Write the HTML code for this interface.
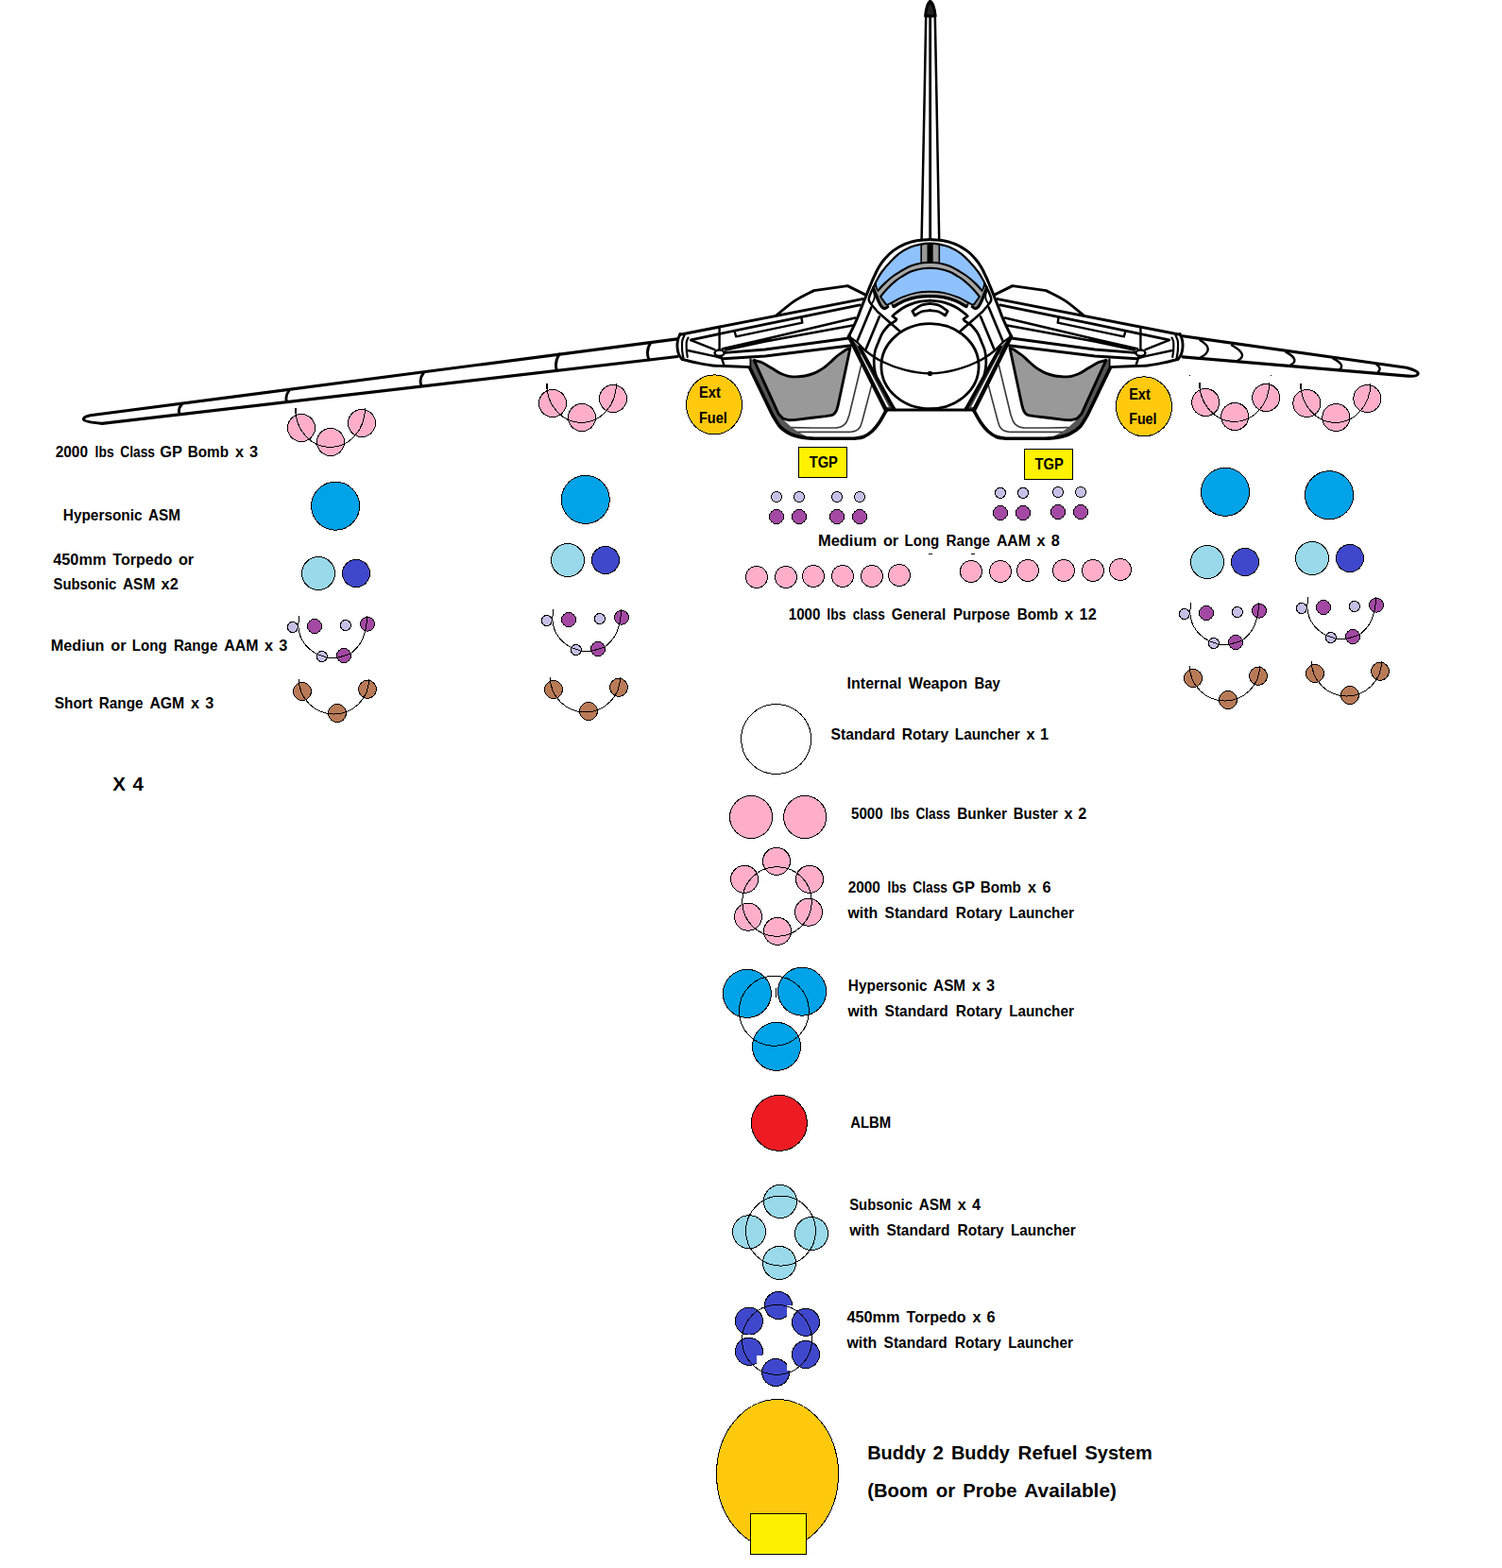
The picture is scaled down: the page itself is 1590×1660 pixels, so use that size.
<!DOCTYPE html>
<html lang="en"><head><meta charset="utf-8"><title>Weapon loadout</title>
<style>
html,body{margin:0;padding:0;background:#fff}
body{width:1590px;height:1660px;overflow:hidden}
svg{display:block}
.w *{stroke:#000;stroke-width:1;shape-rendering:crispEdges}
.w [stroke-width="2"]{stroke-width:2}
.w [stroke="none"]{stroke:none}
.t text{font-family:"Liberation Sans",sans-serif;font-weight:bold;fill:#000}
.a{fill:none;stroke:#000;stroke-width:2.9;stroke-linecap:round;stroke-linejoin:round}
</style></head>
<body>
<svg width="1590" height="1660" viewBox="0 0 1590 1660">
<rect width="1590" height="1660" fill="#fff"/>
<g class="a">
<path d="M717,358.9 L95.5,439.7 Q88,441.5 88.5,444 Q89,446.5 108,448.4 L717,377.5" fill="#fff" stroke-width="3.1"/>
<path d="M192.5,428 Q188,433 190,437.5 M306,413.5 Q301.5,419.5 303.5,424.8 M448.5,394.5 Q443.5,401 445.8,407.4 M592,375 Q586.5,384 589.5,392.4 M689,362.5 Q683,371.5 687,380.8" />
<path d="M1252,355.8 L1489,389.3 Q1501,392.5 1501.2,395.5 Q1500.5,398.8 1490.6,398.1 L1252,377.9" fill="#fff" stroke-width="3.1"/>
<path d="M1270.5,360.2 Q1287,370 1270.5,378.7 M1304,365.5 Q1323,376 1309.2,382.3 M1361.2,372.6 Q1377,381 1365.6,386.7 M1411.4,379.6 Q1425,386.5 1417.5,392 M1457.2,385.8 Q1463,390 1459,393.7" stroke-width="2.4"/>
<path d="M975.6,254 L978.7,100 L980.2,17 Q981,3 985,1.5 Q989,3 989.8,17 L991.4,100 L994.2,254" fill="#fff" stroke-width="2.5"/>
<path d="M984.7,3 V254" stroke-width="2.8"/>
<path d="M979.6,17 Q980.6,5 984.7,1.2 Q988.8,5 990.2,17 Z" fill="#222" stroke-width="3"/>
<path d="M793.5,379.4 L793.5,388.9 L817.7,439.2 C819.1,441.3 822.9,448.6 826.0,452.0 C829.1,455.4 832.6,457.4 836.6,459.3 C840.6,461.2 845.8,462.4 850.0,463.2 C854.2,464.0 859.8,464.1 861.8,464.3 L904.0,464.3 C905.7,464.0 910.9,463.8 914.0,462.5 C917.1,461.2 920.1,459.4 922.9,456.8 C925.7,454.2 928.5,450.7 931.0,447.0 C933.5,443.3 936.8,436.8 938.0,434.8 L905.0,370.0 L899.0,357.0 Z" fill="#fff" stroke="none"/><path d="M793.5,379.4 L793.5,388.9 L817.7,439.2 L826.0,452.0 L836.6,459.3 L850.0,463.2 L858.0,463.8 L848.0,459.0 L839.0,453.2 L831.5,446.5 L824.0,437.9 L798.2,381.3 Z" fill="#555" stroke="none"/><path d="M798.2,381.3 C799.3,381.6 802.8,382.4 805.0,383.2 C807.2,384.0 809.1,385.1 811.4,386.4 C813.7,387.7 816.4,389.4 819.0,391.0 C821.6,392.6 824.5,394.6 827.2,395.8 C829.9,397.0 832.4,397.8 835.0,398.3 C837.6,398.8 840.1,398.9 842.9,398.9 C845.7,398.8 848.9,398.6 852.0,398.0 C855.1,397.4 859.0,396.3 861.8,395.2 C864.5,394.1 866.4,392.9 868.5,391.6 C870.6,390.3 872.4,389.1 874.3,387.6 C876.2,386.1 878.0,384.4 880.0,382.6 C882.0,380.8 884.1,378.6 886.0,377.0 C887.9,375.4 889.7,374.3 891.4,373.1 C893.1,371.9 894.6,370.8 896.0,370.0 C897.4,369.2 899.3,368.8 900.0,368.5 L887.0,429.7 C886.7,430.7 885.9,433.9 885.0,435.5 C884.1,437.1 883.2,438.3 881.4,439.2 C879.6,440.1 875.2,440.4 874.0,440.6 L860.0,442.3 L841.0,444.6 L835.3,444.8 L829.0,443.2 L824.0,437.9 Z" fill="#999" stroke-width="2.88"/><path d="M912.2,384.5 L899.0,439.2 C898.5,440.5 897.3,444.9 896.0,447.0 C894.7,449.1 892.8,450.5 891.0,451.5 C889.2,452.5 886.0,452.8 885.0,453.0 L860.0,453.0 L838.0,452.6" stroke="#3a3a3a" stroke-width="1.62"/><path d="M922.9,407.1 L912.8,445.5 C912.4,446.6 911.6,450.2 910.5,452.0 C909.4,453.8 907.8,455.1 906.0,456.0 C904.2,456.9 901.0,457.2 900.0,457.4 L860.0,457.4 L845.0,457.4" stroke="#3a3a3a" stroke-width="1.62"/><path d="M793.5,379.4 L793.5,388.9 L817.7,439.2 C819.1,441.3 822.9,448.6 826.0,452.0 C829.1,455.4 832.6,457.4 836.6,459.3 C840.6,461.2 845.8,462.4 850.0,463.2 C854.2,464.0 859.8,464.1 861.8,464.3 L904.0,464.3 C905.7,464.0 910.9,463.8 914.0,462.5 C917.1,461.2 920.1,459.4 922.9,456.8 C925.7,454.2 928.5,450.7 931.0,447.0 C933.5,443.3 936.8,436.8 938.0,434.8" stroke-width="3.60"/><path d="M1175.5,379.4 L1175.5,388.9 L1151.3,439.2 C1149.9,441.3 1146.2,448.6 1143.0,452.0 C1139.8,455.4 1136.4,457.4 1132.4,459.3 C1128.4,461.2 1123.2,462.4 1119.0,463.2 C1114.8,464.0 1109.2,464.1 1107.2,464.3 L1065.0,464.3 C1063.3,464.0 1058.2,463.8 1055.0,462.5 C1051.8,461.2 1048.9,459.4 1046.1,456.8 C1043.3,454.2 1040.5,450.7 1038.0,447.0 C1035.5,443.3 1032.2,436.8 1031.0,434.8 L1064.0,370.0 L1070.0,357.0 Z" fill="#fff" stroke="none"/><path d="M1175.5,379.4 L1175.5,388.9 L1151.3,439.2 L1143.0,452.0 L1132.4,459.3 L1119.0,463.2 L1111.0,463.8 L1121.0,459.0 L1130.0,453.2 L1137.5,446.5 L1145.0,437.9 L1170.8,381.3 Z" fill="#555" stroke="none"/><path d="M1170.8,381.3 C1169.7,381.6 1166.2,382.4 1164.0,383.2 C1161.8,384.0 1159.9,385.1 1157.6,386.4 C1155.3,387.7 1152.6,389.4 1150.0,391.0 C1147.4,392.6 1144.5,394.6 1141.8,395.8 C1139.1,397.0 1136.6,397.8 1134.0,398.3 C1131.4,398.8 1128.9,398.9 1126.1,398.9 C1123.3,398.8 1120.2,398.6 1117.0,398.0 C1113.8,397.4 1110.0,396.3 1107.2,395.2 C1104.5,394.1 1102.6,392.9 1100.5,391.6 C1098.4,390.3 1096.6,389.1 1094.7,387.6 C1092.8,386.1 1091.0,384.4 1089.0,382.6 C1087.0,380.8 1084.9,378.6 1083.0,377.0 C1081.1,375.4 1079.3,374.3 1077.6,373.1 C1075.9,371.9 1074.4,370.8 1073.0,370.0 C1071.6,369.2 1069.7,368.8 1069.0,368.5 L1082.0,429.7 C1082.3,430.7 1083.1,433.9 1084.0,435.5 C1084.9,437.1 1085.8,438.3 1087.6,439.2 C1089.4,440.1 1093.8,440.4 1095.0,440.6 L1109.0,442.3 L1128.0,444.6 L1133.7,444.8 L1140.0,443.2 L1145.0,437.9 Z" fill="#999" stroke-width="2.88"/><path d="M1056.8,384.5 L1070.0,439.2 C1070.5,440.5 1071.7,444.9 1073.0,447.0 C1074.3,449.1 1076.2,450.5 1078.0,451.5 C1079.8,452.5 1083.0,452.8 1084.0,453.0 L1109.0,453.0 L1131.0,452.6" stroke="#3a3a3a" stroke-width="1.62"/><path d="M1046.1,407.1 L1056.2,445.5 C1056.6,446.6 1057.4,450.2 1058.5,452.0 C1059.6,453.8 1061.2,455.1 1063.0,456.0 C1064.8,456.9 1068.0,457.2 1069.0,457.4 L1109.0,457.4 L1124.0,457.4" stroke="#3a3a3a" stroke-width="1.62"/><path d="M1175.5,379.4 L1175.5,388.9 L1151.3,439.2 C1149.9,441.3 1146.2,448.6 1143.0,452.0 C1139.8,455.4 1136.4,457.4 1132.4,459.3 C1128.4,461.2 1123.2,462.4 1119.0,463.2 C1114.8,464.0 1109.2,464.1 1107.2,464.3 L1065.0,464.3 C1063.3,464.0 1058.2,463.8 1055.0,462.5 C1051.8,461.2 1048.9,459.4 1046.1,456.8 C1043.3,454.2 1040.5,450.7 1038.0,447.0 C1035.5,443.3 1032.2,436.8 1031.0,434.8" stroke-width="3.60"/>
<path d="M720.0,353.6 L822.0,333.5 L841.4,317.7 L861.6,307.3 L897.4,302.9 L914.5,311.1 L898.8,356.4 L901.2,366.7 L810.0,377.0 L793.5,379.4 L793.5,388.9 L766.6,387.5 L754.0,387.0 L722.0,380.3 L717.0,367.7 Z" fill="#fff" stroke="none"/><path d="M822.0,333.8 C825.2,331.2 834.8,322.8 841.4,318.4 C848.0,314.0 858.2,309.4 861.6,307.6 L897.2,302.6 L915.3,311.6"/><path d="M720.0,354.2 L912.8,316.6" stroke-width="3.00"/><path d="M731.4,359.8 L810.0,343.3 L910.3,322.9"/><path d="M777.5,350.5 L779.2,356.4 L849.3,341.6 L848.4,336.2" stroke-width="2.40"/><path d="M761.6,346.5 L761.6,369.5" stroke-width="2.40"/><path d="M765.0,369.2 L810.0,359.0 L905.2,336.5" stroke-width="2.64"/><path d="M768.0,370.6 L810.0,361.4 L902.7,344.5" stroke-width="2.52"/><path d="M768.0,369.8 L815.0,359.3 L768.0,370.2 Z" fill="#000" stroke-width="1.20"/><path d="M767.9,373.4 L810.0,370.0 L898.5,358.0"/><path d="M765.3,379.7 L810.0,377.0 L901.2,365.8"/><path d="M722.0,380.3 C724.7,380.9 732.7,383.1 738.0,384.2 C743.3,385.3 749.2,386.4 754.0,387.0 C758.8,387.6 760.0,387.2 766.6,387.5 C773.2,387.8 789.0,388.4 793.5,388.6" stroke-width="2.88"/><path d="M728.0,371.0 L756.5,377.2 L765.3,379.7" stroke-width="2.40"/><path d="M731.4,360.2 L756.5,370.2" stroke-width="2.40"/><path d="M763.5,377.8 L766.6,387.0" stroke-width="2.40"/><ellipse cx="761.6" cy="373.7" rx="5" ry="3.2" fill="#fff" stroke-width="2.5"/><path d="M720.0,353.6 C719.6,354.7 718.0,357.6 717.5,360.0 C717.0,362.4 716.8,365.2 717.0,367.7 C717.2,370.2 717.7,372.9 718.5,375.0 C719.3,377.1 721.4,379.4 722.0,380.3" fill="#fff" stroke-width="2.88"/><path d="M724.5,355.0 C724.1,356.0 722.6,358.9 722.2,361.0 C721.8,363.1 722.0,365.5 722.0,367.7 C722.0,369.9 722.2,372.0 722.5,374.0 C722.8,376.0 723.4,378.8 723.6,379.7" stroke-width="2.16"/><path d="M728.5,357.5 C728.2,358.2 727.1,360.3 726.8,362.0 C726.5,363.7 726.7,365.9 726.7,367.7 C726.7,369.5 726.8,371.3 727.0,373.0 C727.2,374.7 727.7,377.2 727.8,378.0" stroke-width="2.16"/><path d="M1249.0,353.6 L1147.0,333.5 L1127.6,317.7 L1107.4,307.3 L1071.6,302.9 L1054.5,311.1 L1070.2,356.4 L1067.8,366.7 L1159.0,377.0 L1175.5,379.4 L1175.5,388.9 L1202.4,387.5 L1215.0,387.0 L1247.0,380.3 L1252.0,367.7 Z" fill="#fff" stroke="none"/><path d="M1147.0,333.8 C1143.8,331.2 1134.2,322.8 1127.6,318.4 C1121.0,314.0 1110.8,309.4 1107.4,307.6 L1071.8,302.6 L1053.7,311.6"/><path d="M1249.0,354.2 L1056.2,316.6" stroke-width="3.00"/><path d="M1237.6,359.8 L1159.0,343.3 L1058.7,322.9"/><path d="M1191.5,350.5 L1189.8,356.4 L1119.7,341.6 L1120.6,336.2" stroke-width="2.40"/><path d="M1207.4,346.5 L1207.4,369.5" stroke-width="2.40"/><path d="M1204.0,369.2 L1159.0,359.0 L1063.8,336.5" stroke-width="2.64"/><path d="M1201.0,370.6 L1159.0,361.4 L1066.3,344.5" stroke-width="2.52"/><path d="M1201.0,369.8 L1154.0,359.3 L1201.0,370.2 Z" fill="#000" stroke-width="1.20"/><path d="M1201.1,373.4 L1159.0,370.0 L1070.5,358.0"/><path d="M1203.7,379.7 L1159.0,377.0 L1067.8,365.8"/><path d="M1247.0,380.3 C1244.3,380.9 1236.3,383.1 1231.0,384.2 C1225.7,385.3 1219.8,386.4 1215.0,387.0 C1210.2,387.6 1209.0,387.2 1202.4,387.5 C1195.8,387.8 1180.0,388.4 1175.5,388.6" stroke-width="2.88"/><path d="M1241.0,371.0 L1212.5,377.2 L1203.7,379.7" stroke-width="2.40"/><path d="M1237.6,360.2 L1212.5,370.2" stroke-width="2.40"/><path d="M1205.5,377.8 L1202.4,387.0" stroke-width="2.40"/><ellipse cx="1207.4" cy="373.7" rx="5" ry="3.2" fill="#fff" stroke-width="2.5"/><path d="M1249.0,353.6 C1249.4,354.7 1251.0,357.6 1251.5,360.0 C1252.0,362.4 1252.2,365.2 1252.0,367.7 C1251.8,370.2 1251.3,372.9 1250.5,375.0 C1249.7,377.1 1247.6,379.4 1247.0,380.3" fill="#fff" stroke-width="2.88"/><path d="M1244.5,355.0 C1244.9,356.0 1246.4,358.9 1246.8,361.0 C1247.2,363.1 1247.0,365.5 1247.0,367.7 C1247.0,369.9 1246.8,372.0 1246.5,374.0 C1246.2,376.0 1245.6,378.8 1245.4,379.7" stroke-width="2.16"/><path d="M1240.5,357.5 C1240.8,358.2 1241.9,360.3 1242.2,362.0 C1242.5,363.7 1242.3,365.9 1242.3,367.7 C1242.3,369.5 1242.2,371.3 1242.0,373.0 C1241.8,374.7 1241.3,377.2 1241.2,378.0" stroke-width="2.16"/>
<path d="M898.7,355.6 C899.5,353.9 902.1,348.7 903.7,345.3 C905.3,341.9 906.8,338.8 908.2,335.3 C909.6,331.8 910.8,328.2 912.3,324.5 C913.8,320.8 915.5,316.5 916.9,313.0 C918.3,309.5 919.3,306.9 920.7,303.6 C922.1,300.3 923.6,296.4 925.2,293.0 C926.8,289.6 928.3,286.2 930.2,283.0 C932.1,279.8 934.0,276.9 936.6,274.0 C939.2,271.1 942.1,268.0 945.6,265.4 C949.1,262.8 953.8,260.2 957.9,258.4 C962.0,256.6 966.1,255.6 970.5,254.8 C974.9,254.0 979.8,253.5 984.5,253.5 C989.2,253.5 994.1,254.0 998.5,254.8 C1002.9,255.6 1007.0,256.6 1011.1,258.4 C1015.2,260.2 1019.8,262.8 1023.4,265.4 C1027.0,268.0 1029.8,271.1 1032.4,274.0 C1035.0,276.9 1036.9,279.8 1038.8,283.0 C1040.7,286.2 1042.2,289.6 1043.8,293.0 C1045.4,296.4 1046.9,300.3 1048.3,303.6 C1049.7,306.9 1050.7,309.5 1052.1,313.0 C1053.5,316.5 1055.2,320.8 1056.7,324.5 C1058.2,328.2 1059.4,331.8 1060.8,335.3 C1062.2,338.8 1063.7,341.9 1065.3,345.3 C1066.9,348.7 1069.5,353.9 1070.3,355.6 L1031.0,434.5 L938,434.5 Z" fill="#fff" stroke="none"/>
<path d="M928.9,308.3 C928.5,307.0 926.8,302.4 926.7,300.3 C926.7,298.2 927.5,298.1 928.6,296.0 C929.7,293.9 931.2,291.0 933.4,288.0 C935.6,285.0 938.8,281.2 941.8,278.0 C944.8,274.8 947.9,271.3 951.6,268.6 C955.3,265.9 960.3,263.2 964.0,261.6 C967.7,260.0 970.2,259.6 973.6,258.9 C977.0,258.2 980.9,257.6 984.5,257.6 C988.1,257.6 992.0,258.2 995.4,258.9 C998.8,259.6 1001.3,260.0 1005.0,261.6 C1008.7,263.2 1013.7,265.9 1017.4,268.6 C1021.1,271.3 1024.2,274.8 1027.2,278.0 C1030.2,281.2 1033.4,285.0 1035.6,288.0 C1037.8,291.0 1039.3,293.9 1040.4,296.0 C1041.5,298.1 1042.3,298.2 1042.3,300.3 C1042.2,302.4 1040.5,307.0 1040.1,308.3 L1040.1,308.3 C1038.8,306.9 1035.4,302.8 1032.6,300.1 C1029.8,297.4 1026.2,294.3 1023.1,292.0 C1020.0,289.7 1017.0,288.1 1014.0,286.3 C1011.0,284.5 1008.4,282.7 1004.8,281.4 C1001.2,280.1 995.6,278.9 992.2,278.3 C988.8,277.7 987.1,277.9 984.5,277.9 C981.9,277.9 980.2,277.7 976.8,278.3 C973.4,278.9 967.8,280.1 964.2,281.4 C960.6,282.7 958.0,284.5 955.0,286.3 C952.0,288.1 949.0,289.7 945.9,292.0 C942.8,294.3 939.2,297.4 936.4,300.1 C933.6,302.8 930.1,306.9 928.9,308.3 Z" fill="#8fc2fc" stroke="none"/>
<path d="M975,257.5 H994.5 V277.5 H975 Z" fill="#999" stroke="none"/>
<path d="M975.2,258.5 V277.5 M994.3,258.5 V277.5" stroke-width="1.6"/>
<path d="M984.6,258 V278" stroke-width="6.2" stroke-linecap="butt"/>
<path d="M928.9,308.3 C928.5,307.0 926.8,302.4 926.7,300.3 C926.7,298.2 927.5,298.1 928.6,296.0 C929.7,293.9 931.2,291.0 933.4,288.0 C935.6,285.0 938.8,281.2 941.8,278.0 C944.8,274.8 947.9,271.3 951.6,268.6 C955.3,265.9 960.3,263.2 964.0,261.6 C967.7,260.0 970.2,259.6 973.6,258.9 C977.0,258.2 980.9,257.6 984.5,257.6 C988.1,257.6 992.0,258.2 995.4,258.9 C998.8,259.6 1001.3,260.0 1005.0,261.6 C1008.7,263.2 1013.7,265.9 1017.4,268.6 C1021.1,271.3 1024.2,274.8 1027.2,278.0 C1030.2,281.2 1033.4,285.0 1035.6,288.0 C1037.8,291.0 1039.3,293.9 1040.4,296.0 C1041.5,298.1 1042.3,298.2 1042.3,300.3 C1042.2,302.4 1040.5,307.0 1040.1,308.3" stroke-width="2.16"/>
<path d="M928.9,308.3 C930.1,306.9 933.6,302.8 936.4,300.1 C939.2,297.4 942.8,294.3 945.9,292.0 C949.0,289.7 952.0,288.1 955.0,286.3 C958.0,284.5 960.6,282.7 964.2,281.4 C967.8,280.1 973.4,278.9 976.8,278.3 C980.2,277.7 981.9,277.9 984.5,277.9 C987.1,277.9 988.8,277.7 992.2,278.3 C995.6,278.9 1001.2,280.1 1004.8,281.4 C1008.4,282.7 1011.0,284.5 1014.0,286.3 C1017.0,288.1 1020.0,289.7 1023.1,292.0 C1026.2,294.3 1029.8,297.4 1032.6,300.1 C1035.4,302.8 1038.8,306.9 1040.1,308.3 L1037.0,314.0 C1035.7,312.5 1032.2,308.1 1029.4,305.2 C1026.6,302.3 1022.6,298.8 1020.0,296.7 C1017.4,294.6 1016.5,294.1 1014.0,292.6 C1011.5,291.1 1008.4,288.9 1004.8,287.5 C1001.2,286.1 995.6,284.9 992.2,284.3 C988.8,283.7 987.1,283.9 984.5,283.9 C981.9,283.9 980.2,283.7 976.8,284.3 C973.4,284.9 967.8,286.1 964.2,287.5 C960.6,288.9 957.5,291.1 955.0,292.6 C952.5,294.1 951.6,294.6 949.0,296.7 C946.4,298.8 942.4,302.3 939.6,305.2 C936.8,308.1 933.3,312.5 932.0,314.0 Z" fill="#a8a8a8" stroke="none"/>
<path d="M932.0,314.0 C933.3,312.5 936.8,308.1 939.6,305.2 C942.4,302.3 946.4,298.8 949.0,296.7 C951.6,294.6 952.5,294.1 955.0,292.6 C957.5,291.1 960.6,288.9 964.2,287.5 C967.8,286.1 973.4,284.9 976.8,284.3 C980.2,283.7 981.9,283.9 984.5,283.9 C987.1,283.9 988.8,283.7 992.2,284.3 C995.6,284.9 1001.2,286.1 1004.8,287.5 C1008.4,288.9 1011.5,291.1 1014.0,292.6 C1016.5,294.1 1017.4,294.6 1020.0,296.7 C1022.6,298.8 1026.6,302.3 1029.4,305.2 C1032.2,308.1 1035.7,312.5 1037.0,314.0 L1031.5,323.8 C1031.2,323.6 1030.8,323.3 1029.5,322.6 C1028.2,321.9 1026.3,320.9 1023.7,319.6 C1021.1,318.3 1018.2,316.2 1014.0,314.6 C1009.8,313.0 1003.4,310.9 998.5,309.9 C993.6,308.9 989.2,308.7 984.5,308.7 C979.8,308.7 975.4,308.9 970.5,309.9 C965.6,310.9 959.2,313.0 955.0,314.6 C950.8,316.2 947.9,318.3 945.3,319.6 C942.7,320.9 940.8,321.9 939.5,322.6 C938.2,323.3 937.8,323.6 937.5,323.8 Z" fill="#8fc2fc" stroke="none"/>
<path d="M939.5,322.6 C940.5,322.1 942.7,320.9 945.3,319.6 C947.9,318.3 950.8,316.2 955.0,314.6 C959.2,313.0 965.6,310.9 970.5,309.9 C975.4,308.9 979.8,308.7 984.5,308.7 C989.2,308.7 993.6,308.9 998.5,309.9 C1003.4,310.9 1009.8,313.0 1014.0,314.6 C1018.2,316.2 1021.1,318.3 1023.7,319.6 C1026.3,320.9 1028.5,322.1 1029.5,322.6 L1023.0,324.5 C1021.0,323.4 1015.2,319.8 1011.1,318.2 C1007.0,316.6 1002.9,315.4 998.5,314.6 C994.1,313.8 989.2,313.6 984.5,313.6 C979.8,313.6 974.9,313.8 970.5,314.6 C966.1,315.4 962.0,316.6 957.9,318.2 C953.8,319.8 948.0,323.4 946.0,324.5 Z" fill="#a8a8a8" stroke="none"/>
<path d="M928.9,308.3 C930.1,306.9 933.6,302.8 936.4,300.1 C939.2,297.4 942.8,294.3 945.9,292.0 C949.0,289.7 952.0,288.1 955.0,286.3 C958.0,284.5 960.6,282.7 964.2,281.4 C967.8,280.1 973.4,278.9 976.8,278.3 C980.2,277.7 981.9,277.9 984.5,277.9 C987.1,277.9 988.8,277.7 992.2,278.3 C995.6,278.9 1001.2,280.1 1004.8,281.4 C1008.4,282.7 1011.0,284.5 1014.0,286.3 C1017.0,288.1 1020.0,289.7 1023.1,292.0 C1026.2,294.3 1029.8,297.4 1032.6,300.1 C1035.4,302.8 1038.8,306.9 1040.1,308.3" stroke-width="2.16"/>
<path d="M932.0,314.0 C933.3,312.5 936.8,308.1 939.6,305.2 C942.4,302.3 946.4,298.8 949.0,296.7 C951.6,294.6 952.5,294.1 955.0,292.6 C957.5,291.1 960.6,288.9 964.2,287.5 C967.8,286.1 973.4,284.9 976.8,284.3 C980.2,283.7 981.9,283.9 984.5,283.9 C987.1,283.9 988.8,283.7 992.2,284.3 C995.6,284.9 1001.2,286.1 1004.8,287.5 C1008.4,288.9 1011.5,291.1 1014.0,292.6 C1016.5,294.1 1017.4,294.6 1020.0,296.7 C1022.6,298.8 1026.6,302.3 1029.4,305.2 C1032.2,308.1 1035.7,312.5 1037.0,314.0" stroke-width="2.16"/>
<path d="M939.5,322.6 C940.5,322.1 942.7,320.9 945.3,319.6 C947.9,318.3 950.8,316.2 955.0,314.6 C959.2,313.0 965.6,310.9 970.5,309.9 C975.4,308.9 979.8,308.7 984.5,308.7 C989.2,308.7 993.6,308.9 998.5,309.9 C1003.4,310.9 1009.8,313.0 1014.0,314.6 C1018.2,316.2 1021.1,318.3 1023.7,319.6 C1026.3,320.9 1028.5,322.1 1029.5,322.6" stroke-width="1.92"/>
<path d="M946.0,324.5 C948.0,323.4 953.8,319.8 957.9,318.2 C962.0,316.6 966.1,315.4 970.5,314.6 C974.9,313.8 979.8,313.6 984.5,313.6 C989.2,313.6 994.1,313.8 998.5,314.6 C1002.9,315.4 1007.0,316.6 1011.1,318.2 C1015.2,319.8 1021.0,323.4 1023.0,324.5" stroke-width="3.36"/>
<path d="M926.5,304.0 L928.9,308.3 L932.0,314.0 L938.0,322.1 L937.3,325.6 L934.0,324.6 L930.5,318.5 L927.5,311.0 Z" fill="#8a9090" stroke="none"/><path d="M932.0,314.0 L938.3,322.6" stroke-width="1.92"/><path d="M924.5,304.5 C924.9,305.6 926.0,308.9 927.0,311.4 C928.0,313.9 929.2,317.1 930.2,319.3 C931.2,321.5 932.3,323.5 933.3,324.7 C934.3,325.9 935.3,326.6 936.4,326.6 C937.5,326.6 939.2,324.9 939.8,324.6" stroke-width="3.12"/><path d="M944.3,321.3 L946.2,324.8 L949.0,323.2" stroke-width="1.68"/><path d="M1042.5,304.0 L1040.1,308.3 L1037.0,314.0 L1031.0,322.1 L1031.7,325.6 L1035.0,324.6 L1038.5,318.5 L1041.5,311.0 Z" fill="#8a9090" stroke="none"/><path d="M1037.0,314.0 L1030.7,322.6" stroke-width="1.92"/><path d="M1044.5,304.5 C1044.1,305.6 1043.0,308.9 1042.0,311.4 C1041.0,313.9 1039.8,317.1 1038.8,319.3 C1037.8,321.5 1036.7,323.5 1035.7,324.7 C1034.7,325.9 1033.7,326.6 1032.6,326.6 C1031.5,326.6 1029.8,324.9 1029.2,324.6" stroke-width="3.12"/><path d="M1024.7,321.3 L1022.8,324.8 L1020.0,323.2" stroke-width="1.68"/>
<path d="M898.7,355.6 C899.5,353.9 902.1,348.7 903.7,345.3 C905.3,341.9 906.8,338.8 908.2,335.3 C909.6,331.8 910.8,328.2 912.3,324.5 C913.8,320.8 915.5,316.5 916.9,313.0 C918.3,309.5 919.3,306.9 920.7,303.6 C922.1,300.3 923.6,296.4 925.2,293.0 C926.8,289.6 928.3,286.2 930.2,283.0 C932.1,279.8 934.0,276.9 936.6,274.0 C939.2,271.1 942.1,268.0 945.6,265.4 C949.1,262.8 953.8,260.2 957.9,258.4 C962.0,256.6 966.1,255.6 970.5,254.8 C974.9,254.0 982.2,253.7 984.5,253.5" stroke-width="3.00"/><path d="M922.3,325.4 L907.7,360.6" stroke-width="2.64"/><path d="M930.9,335.3 L916.6,369.8" stroke-width="2.64"/><path d="M926.7,300.1 C926.3,300.8 925.2,303.1 924.5,304.5 C923.8,305.9 923.3,306.6 922.6,308.3 C921.9,310.0 920.6,313.0 920.1,314.6 C919.6,316.2 919.6,316.6 919.8,317.7 C920.0,318.8 920.7,319.8 921.4,320.9 C922.1,321.9 922.6,322.5 923.9,324.0 C925.1,325.5 928.1,329.0 928.9,330.0 L953.2,351.2" stroke-width="2.52"/><path d="M923.9,306.7 C924.1,307.3 925.1,309.2 925.4,310.5 C925.7,311.8 925.9,313.3 925.8,314.6 C925.7,315.9 925.1,317.3 924.6,318.5 C924.1,319.7 922.9,321.2 922.6,321.8" stroke-width="1.92"/><path d="M941.4,343.6 C940.2,345.0 936.4,349.0 934.5,352.0 C932.6,355.0 931.5,358.2 930.2,361.4 C928.9,364.6 927.3,367.9 926.5,371.0 C925.7,374.1 925.4,377.1 925.2,380.3 C925.1,383.5 925.2,386.9 925.6,390.0 C926.0,393.1 926.8,396.0 927.7,399.2 C928.6,402.4 929.7,405.9 931.0,409.0 C932.3,412.1 933.8,415.3 935.3,418.0 C936.8,420.7 938.1,422.6 940.0,425.0 C941.9,427.4 945.5,431.2 946.6,432.5" stroke-width="2.76"/><path d="M942.2,343.5 L947.9,339.7 L949.1,337.8 L944.7,334.7 L946.6,332.8 C948.0,331.8 952.3,328.2 955.0,326.5 C957.7,324.8 959.7,323.8 962.7,322.6 C965.7,321.4 969.4,320.1 973.0,319.3 C976.6,318.6 982.6,318.3 984.5,318.1" stroke-width="2.76"/><path d="M965.8,329.4 C967.3,328.4 971.9,324.6 975.0,323.3 C978.1,322.0 982.9,321.8 984.5,321.5 M965.8,329.4 L968.4,334.0 C969.7,333.3 973.3,330.7 976.0,329.8 C978.7,328.9 983.1,328.9 984.5,328.7" stroke-width="2.76"/><path d="M898.8,356.4 L938.0,434.5 L946.6,433.8 L910.0,367.5 Z" fill="#444" stroke="none"/><path d="M905.0,371.0 L912.0,376.0 L941.0,431.0 L938.6,431.0 Z" fill="#fff" stroke="none"/><path d="M898.8,356.4 L938.0,434.5" stroke-width="4.32"/><path d="M910.0,367.5 L946.6,433.4" stroke-width="3.60"/><path d="M1070.3,355.6 C1069.5,353.9 1066.9,348.7 1065.3,345.3 C1063.7,341.9 1062.2,338.8 1060.8,335.3 C1059.4,331.8 1058.2,328.2 1056.7,324.5 C1055.2,320.8 1053.5,316.5 1052.1,313.0 C1050.7,309.5 1049.7,306.9 1048.3,303.6 C1046.9,300.3 1045.4,296.4 1043.8,293.0 C1042.2,289.6 1040.7,286.2 1038.8,283.0 C1036.9,279.8 1035.0,276.9 1032.4,274.0 C1029.8,271.1 1027.0,268.0 1023.4,265.4 C1019.8,262.8 1015.2,260.2 1011.1,258.4 C1007.0,256.6 1002.9,255.6 998.5,254.8 C994.1,254.0 986.8,253.7 984.5,253.5" stroke-width="3.00"/><path d="M1046.7,325.4 L1061.3,360.6" stroke-width="2.64"/><path d="M1038.1,335.3 L1052.4,369.8" stroke-width="2.64"/><path d="M1042.3,300.1 C1042.7,300.8 1043.8,303.1 1044.5,304.5 C1045.2,305.9 1045.7,306.6 1046.4,308.3 C1047.1,310.0 1048.4,313.0 1048.9,314.6 C1049.4,316.2 1049.4,316.6 1049.2,317.7 C1049.0,318.8 1048.3,319.8 1047.6,320.9 C1046.9,321.9 1046.3,322.5 1045.1,324.0 C1043.8,325.5 1040.9,329.0 1040.1,330.0 L1015.8,351.2" stroke-width="2.52"/><path d="M1045.1,306.7 C1044.8,307.3 1043.9,309.2 1043.6,310.5 C1043.3,311.8 1043.1,313.3 1043.2,314.6 C1043.3,315.9 1043.9,317.3 1044.4,318.5 C1044.9,319.7 1046.1,321.2 1046.4,321.8" stroke-width="1.92"/><path d="M1027.6,343.6 C1028.8,345.0 1032.6,349.0 1034.5,352.0 C1036.4,355.0 1037.5,358.2 1038.8,361.4 C1040.1,364.6 1041.7,367.9 1042.5,371.0 C1043.3,374.1 1043.6,377.1 1043.8,380.3 C1044.0,383.5 1043.8,386.9 1043.4,390.0 C1043.0,393.1 1042.2,396.0 1041.3,399.2 C1040.4,402.4 1039.3,405.9 1038.0,409.0 C1036.7,412.1 1035.2,415.3 1033.7,418.0 C1032.2,420.7 1030.9,422.6 1029.0,425.0 C1027.1,427.4 1023.5,431.2 1022.4,432.5" stroke-width="2.76"/><path d="M1026.8,343.5 L1021.1,339.7 L1019.9,337.8 L1024.3,334.7 L1022.4,332.8 C1021.0,331.8 1016.7,328.2 1014.0,326.5 C1011.3,324.8 1009.3,323.8 1006.3,322.6 C1003.3,321.4 999.6,320.1 996.0,319.3 C992.4,318.6 986.4,318.3 984.5,318.1" stroke-width="2.76"/><path d="M1003.2,329.4 C1001.7,328.4 997.1,324.6 994.0,323.3 C990.9,322.0 986.1,321.8 984.5,321.5 M1003.2,329.4 L1000.6,334.0 C999.3,333.3 995.7,330.7 993.0,329.8 C990.3,328.9 985.9,328.9 984.5,328.7" stroke-width="2.76"/><path d="M1070.2,356.4 L1031.0,434.5 L1022.4,433.8 L1059.0,367.5 Z" fill="#444" stroke="none"/><path d="M1064.0,371.0 L1057.0,376.0 L1028.0,431.0 L1030.4,431.0 Z" fill="#fff" stroke="none"/><path d="M1070.2,356.4 L1031.0,434.5" stroke-width="4.32"/><path d="M1059.0,367.5 L1022.4,433.4" stroke-width="3.60"/>
<path d="M898.8,356.4 C900.3,357.4 904.7,360.2 907.6,362.7 C910.5,365.2 912.2,368.2 916.4,371.5 C920.6,374.8 925.8,378.8 932.7,382.2 C939.6,385.6 949.3,389.4 957.9,391.6 C966.5,393.8 975.6,395.3 984.5,395.3 C993.4,395.3 1002.5,393.8 1011.1,391.6 C1019.7,389.4 1029.4,385.6 1036.3,382.2 C1043.2,378.8 1048.4,374.8 1052.6,371.5 C1056.8,368.2 1058.5,365.2 1061.4,362.7 C1064.3,360.2 1068.7,357.4 1070.2,356.4" stroke-width="2.28"/>
<circle cx="984.5" cy="395.4" r="2.6" fill="#000" stroke="none"/>
<ellipse cx="984.5" cy="387.7" rx="51.6" ry="45" fill="none" stroke-width="2.8"/>
<path d="M938,434 H1031" stroke-width="2.8"/>
</g>
<g class="w">
<circle cx="319.00" cy="453.00" r="14.50" fill="#ffaec9"/><circle cx="350.00" cy="468.00" r="14.50" fill="#ffaec9"/><circle cx="383.00" cy="448.00" r="14.50" fill="#ffaec9"/><path d="M312.5,432 V438" stroke-width="2" fill="none"/><path d="M312.5,432 A37,41.5 0 0 0 386.5,432" fill="none"/>
<circle cx="585.00" cy="427.00" r="14.50" fill="#ffaec9"/><circle cx="616.00" cy="442.00" r="14.50" fill="#ffaec9"/><circle cx="649.00" cy="422.00" r="14.50" fill="#ffaec9"/><path d="M578.5,406 V412" stroke-width="2" fill="none"/><path d="M578.5,406 A37,41.5 0 0 0 652.5,406" fill="none"/>
<circle cx="1276.20" cy="426.00" r="14.50" fill="#ffaec9"/><circle cx="1307.20" cy="441.00" r="14.50" fill="#ffaec9"/><circle cx="1340.20" cy="421.00" r="14.50" fill="#ffaec9"/><path d="M1269.7,405 V411" stroke-width="2" fill="none"/><path d="M1269.7,405 A37,41.5 0 0 0 1343.7,405" fill="none"/>
<circle cx="1383.30" cy="427.00" r="14.50" fill="#ffaec9"/><circle cx="1414.30" cy="442.00" r="14.50" fill="#ffaec9"/><circle cx="1447.30" cy="422.00" r="14.50" fill="#ffaec9"/><path d="M1376.8,406 V412" stroke-width="2" fill="none"/><path d="M1376.8,406 A37,41.5 0 0 0 1450.8,406" fill="none"/>
<circle cx="355.10" cy="535.70" r="25.50" fill="#00a2e8"/>
<circle cx="619.80" cy="528.90" r="25.50" fill="#00a2e8"/>
<circle cx="1297.00" cy="520.80" r="25.50" fill="#00a2e8"/>
<circle cx="1407.10" cy="524.20" r="25.50" fill="#00a2e8"/>
<circle cx="337.00" cy="607.00" r="17.50" fill="#99d9ea"/><circle cx="377.00" cy="607.00" r="14.50" fill="#3f48cc"/>
<circle cx="601.00" cy="593.00" r="17.50" fill="#99d9ea"/><circle cx="641.00" cy="593.00" r="14.50" fill="#3f48cc"/>
<circle cx="1278.00" cy="595.00" r="17.50" fill="#99d9ea"/><circle cx="1318.00" cy="595.00" r="14.50" fill="#3f48cc"/>
<circle cx="1389.00" cy="591.00" r="17.50" fill="#99d9ea"/><circle cx="1429.00" cy="591.00" r="14.50" fill="#3f48cc"/>
<circle cx="309.80" cy="664.00" r="5.50" fill="#c8bfe7"/><circle cx="333.00" cy="663.00" r="7.50" fill="#a349a4"/><circle cx="365.90" cy="662.00" r="5.50" fill="#c8bfe7"/><circle cx="389.00" cy="660.70" r="7.50" fill="#a349a4"/><circle cx="340.80" cy="695.00" r="5.50" fill="#c8bfe7"/><circle cx="364.00" cy="694.00" r="7.50" fill="#a349a4"/><path d="M316.3,652 L315.8,664 C317,678 326,688 337,693 L346.5,696.4 H357 L370.5,692.2 C380,686 388,674 388.5,652.3" fill="none"/>
<circle cx="578.80" cy="657.00" r="5.50" fill="#c8bfe7"/><circle cx="602.00" cy="656.00" r="7.50" fill="#a349a4"/><circle cx="634.90" cy="655.00" r="5.50" fill="#c8bfe7"/><circle cx="658.00" cy="653.70" r="7.50" fill="#a349a4"/><circle cx="609.80" cy="688.00" r="5.50" fill="#c8bfe7"/><circle cx="633.00" cy="687.00" r="7.50" fill="#a349a4"/><path d="M585.3,645 L584.8,657 C586,671 595,681 606,686 L615.5,689.4 H626 L639.5,685.2 C649,679 657,667 657.5,645.3" fill="none"/>
<circle cx="1253.80" cy="650.00" r="5.50" fill="#c8bfe7"/><circle cx="1277.00" cy="649.00" r="7.50" fill="#a349a4"/><circle cx="1309.90" cy="648.00" r="5.50" fill="#c8bfe7"/><circle cx="1333.00" cy="646.70" r="7.50" fill="#a349a4"/><circle cx="1284.80" cy="681.00" r="5.50" fill="#c8bfe7"/><circle cx="1308.00" cy="680.00" r="7.50" fill="#a349a4"/><path d="M1260.3,638 L1259.8,650 C1261,664 1270,674 1281,679 L1290.5,682.4 H1301 L1314.5,678.2 C1324,672 1332,660 1332.5,638.3" fill="none"/>
<circle cx="1377.80" cy="644.00" r="5.50" fill="#c8bfe7"/><circle cx="1401.00" cy="643.00" r="7.50" fill="#a349a4"/><circle cx="1433.90" cy="642.00" r="5.50" fill="#c8bfe7"/><circle cx="1457.00" cy="640.70" r="7.50" fill="#a349a4"/><circle cx="1408.80" cy="675.00" r="5.50" fill="#c8bfe7"/><circle cx="1432.00" cy="674.00" r="7.50" fill="#a349a4"/><path d="M1384.3,632 L1383.8,644 C1385,658 1394,668 1405,673 L1414.5,676.4 H1425 L1438.5,672.2 C1448,666 1456,654 1456.5,632.3" fill="none"/>
<circle cx="320.00" cy="732.00" r="9.50" fill="#b97a57"/><circle cx="357.00" cy="755.00" r="9.50" fill="#b97a57"/><circle cx="389.00" cy="729.80" r="9.50" fill="#b97a57"/><path d="M316.4,719 A37.1,37 0 0 0 390.6,719" fill="none"/>
<circle cx="586.00" cy="730.00" r="9.50" fill="#b97a57"/><circle cx="623.00" cy="753.00" r="9.50" fill="#b97a57"/><circle cx="655.00" cy="727.80" r="9.50" fill="#b97a57"/><path d="M582.4,717 A37.1,37 0 0 0 656.6,717" fill="none"/>
<circle cx="1263.00" cy="718.00" r="9.50" fill="#b97a57"/><circle cx="1300.00" cy="741.00" r="9.50" fill="#b97a57"/><circle cx="1332.00" cy="715.80" r="9.50" fill="#b97a57"/><path d="M1259.4,705 A37.1,37 0 0 0 1333.6,705" fill="none"/>
<circle cx="1392.00" cy="713.00" r="9.50" fill="#b97a57"/><circle cx="1429.00" cy="736.00" r="9.50" fill="#b97a57"/><circle cx="1461.00" cy="710.80" r="9.50" fill="#b97a57"/><path d="M1388.4,700 A37.1,37 0 0 0 1462.6,700" fill="none"/>
<ellipse cx="756.00" cy="428.40" rx="29.50" ry="31.50" fill="#ffc90e"/>
<ellipse cx="1211.00" cy="430.30" rx="29.50" ry="31.50" fill="#ffc90e"/>
<rect x="845.5" y="473.5" width="51" height="32" fill="#fff200"/>
<rect x="1084.5" y="475.5" width="51" height="32" fill="#fff200"/>
<circle cx="822.00" cy="526.00" r="5.50" fill="#c8bfe7"/>
<circle cx="822.00" cy="547.00" r="7.50" fill="#a349a4"/>
<circle cx="846.00" cy="526.00" r="5.50" fill="#c8bfe7"/>
<circle cx="846.00" cy="547.00" r="7.50" fill="#a349a4"/>
<circle cx="886.00" cy="526.00" r="5.50" fill="#c8bfe7"/>
<circle cx="886.00" cy="547.00" r="7.50" fill="#a349a4"/>
<circle cx="910.00" cy="526.00" r="5.50" fill="#c8bfe7"/>
<circle cx="910.00" cy="547.00" r="7.50" fill="#a349a4"/>
<circle cx="1059.00" cy="521.80" r="5.50" fill="#c8bfe7"/>
<circle cx="1059.00" cy="543.00" r="7.50" fill="#a349a4"/>
<circle cx="1083.00" cy="521.80" r="5.50" fill="#c8bfe7"/>
<circle cx="1083.00" cy="543.00" r="7.50" fill="#a349a4"/>
<circle cx="1120.00" cy="521.00" r="5.50" fill="#c8bfe7"/>
<circle cx="1120.00" cy="542.00" r="7.50" fill="#a349a4"/>
<circle cx="1144.00" cy="521.00" r="5.50" fill="#c8bfe7"/>
<circle cx="1144.00" cy="542.00" r="7.50" fill="#a349a4"/>
<circle cx="801.00" cy="611.00" r="11.50" fill="#ffaec9"/>
<circle cx="832.00" cy="611.00" r="11.50" fill="#ffaec9"/>
<circle cx="861.00" cy="610.00" r="11.50" fill="#ffaec9"/>
<circle cx="892.00" cy="610.00" r="11.50" fill="#ffaec9"/>
<circle cx="923.00" cy="610.00" r="11.50" fill="#ffaec9"/>
<circle cx="952.00" cy="609.00" r="11.50" fill="#ffaec9"/>
<circle cx="1028.00" cy="605.00" r="11.50" fill="#ffaec9"/>
<circle cx="1059.00" cy="605.00" r="11.50" fill="#ffaec9"/>
<circle cx="1088.00" cy="604.00" r="11.50" fill="#ffaec9"/>
<circle cx="1126.00" cy="604.00" r="11.50" fill="#ffaec9"/>
<circle cx="1157.00" cy="604.00" r="11.50" fill="#ffaec9"/>
<circle cx="1186.00" cy="603.00" r="11.50" fill="#ffaec9"/>
<path d="M983,586.5h3.5M1028,586.5h3.5" fill="none"/>
<rect x="1259" y="397" width="1" height="1" fill="#000" stroke="none"/><rect x="1345" y="397" width="1" height="1" fill="#000" stroke="none"/>
<circle cx="821.60" cy="782.50" r="37.00" fill="#fff"/>
<circle cx="795.10" cy="865.00" r="22.50" fill="#ffaec9"/>
<circle cx="852.20" cy="865.00" r="22.50" fill="#ffaec9"/>
<circle cx="822.00" cy="911.80" r="14.50" fill="#ffaec9"/>
<circle cx="788.10" cy="930.80" r="14.50" fill="#ffaec9"/>
<circle cx="857.00" cy="930.80" r="14.50" fill="#ffaec9"/>
<circle cx="792.00" cy="970.70" r="14.50" fill="#ffaec9"/>
<circle cx="856.00" cy="965.70" r="14.50" fill="#ffaec9"/>
<circle cx="823.00" cy="985.90" r="14.50" fill="#ffaec9"/>
<circle cx="822.50" cy="954.50" r="36.80" fill="none"/>
<circle cx="790.90" cy="1051.90" r="25.50" fill="#00a2e8"/>
<circle cx="849.10" cy="1049.70" r="25.50" fill="#00a2e8"/>
<circle cx="822.00" cy="1107.90" r="25.50" fill="#00a2e8"/>
<circle cx="819.40" cy="1070.30" r="37.00" fill="none"/>
<path d="M821.5,1046V1056" fill="none"/>
<circle cx="824.90" cy="1188.90" r="29.50" fill="#ed1c24"/>
<circle cx="825.90" cy="1271.90" r="17.50" fill="#99d9ea"/>
<circle cx="793.00" cy="1304.20" r="17.50" fill="#99d9ea"/>
<circle cx="859.10" cy="1306.00" r="17.50" fill="#99d9ea"/>
<circle cx="825.00" cy="1336.90" r="17.50" fill="#99d9ea"/>
<circle cx="826.50" cy="1303.10" r="37.00" fill="none"/>
<circle cx="824.00" cy="1382.00" r="14.50" fill="#3f48cc"/>
<circle cx="792.90" cy="1398.60" r="14.50" fill="#3f48cc"/>
<circle cx="853.00" cy="1399.80" r="14.50" fill="#3f48cc"/>
<circle cx="792.90" cy="1430.80" r="14.50" fill="#3f48cc"/>
<circle cx="853.00" cy="1434.00" r="14.50" fill="#3f48cc"/>
<circle cx="821.10" cy="1453.00" r="14.50" fill="#3f48cc"/>
<rect x="833" y="1382" width="7" height="12" fill="#fff" stroke="none"/>
<rect x="790" y="1412.6" width="9" height="3" fill="#fff" stroke="none"/>
<rect x="801" y="1435" width="8" height="9" fill="#fff" stroke="none"/>
<rect x="833" y="1445" width="4" height="5.5" fill="#fff" stroke="none"/>
<circle cx="822.50" cy="1418.40" r="37.00" fill="none"/>
<ellipse cx="823.00" cy="1560.50" rx="64.50" ry="79.00" fill="#ffc90e"/>
<rect x="794.5" y="1602.5" width="59" height="43" fill="#fff200"/>
</g>
<g class="t">
<text y="483.8" font-size="16.3" xml:space="preserve"><tspan x="58.75" textLength="38.53" lengthAdjust="spacingAndGlyphs">2000 </tspan><tspan x="100.60" textLength="23.85" lengthAdjust="spacingAndGlyphs">lbs </tspan><tspan x="127.30" textLength="40.52" lengthAdjust="spacingAndGlyphs">Class </tspan><tspan x="169.18" textLength="28.07" lengthAdjust="spacingAndGlyphs">GP </tspan><tspan x="198.70" textLength="47.54" lengthAdjust="spacingAndGlyphs">Bomb </tspan><tspan x="249.07" textLength="13.59" lengthAdjust="spacingAndGlyphs">x </tspan><tspan x="264.12" textLength="9.06" lengthAdjust="spacingAndGlyphs">3</tspan></text>
<text y="550.8" font-size="16.3" xml:space="preserve"><tspan x="66.80" textLength="88.03" lengthAdjust="spacingAndGlyphs">Hypersonic </tspan><tspan x="157.05" textLength="34.00" lengthAdjust="spacingAndGlyphs">ASM</tspan></text>
<text y="597.6" font-size="16.3" xml:space="preserve"><tspan x="56.20" textLength="60.73" lengthAdjust="spacingAndGlyphs">450mm </tspan><tspan x="119.30" textLength="67.57" lengthAdjust="spacingAndGlyphs">Torpedo </tspan><tspan x="188.90" textLength="16.30" lengthAdjust="spacingAndGlyphs">or</tspan></text>
<text y="624.4" font-size="16.3" xml:space="preserve"><tspan x="56.50" textLength="70.92" lengthAdjust="spacingAndGlyphs">Subsonic </tspan><tspan x="130.00" textLength="38.47" lengthAdjust="spacingAndGlyphs">ASM </tspan><tspan x="170.59" textLength="18.13" lengthAdjust="spacingAndGlyphs">x2</tspan></text>
<text y="688.8" font-size="16.3" xml:space="preserve"><tspan x="53.80" textLength="61.09" lengthAdjust="spacingAndGlyphs">Mediun </tspan><tspan x="117.20" textLength="20.82" lengthAdjust="spacingAndGlyphs">or </tspan><tspan x="139.80" textLength="40.99" lengthAdjust="spacingAndGlyphs">Long </tspan><tspan x="183.90" textLength="50.72" lengthAdjust="spacingAndGlyphs">Range </tspan><tspan x="237.20" textLength="40.62" lengthAdjust="spacingAndGlyphs">AAM </tspan><tspan x="279.92" textLength="13.59" lengthAdjust="spacingAndGlyphs">x </tspan><tspan x="295.17" textLength="9.06" lengthAdjust="spacingAndGlyphs">3</tspan></text>
<text y="749.8" font-size="16.3" xml:space="preserve"><tspan x="57.70" textLength="44.59" lengthAdjust="spacingAndGlyphs">Short </tspan><tspan x="104.80" textLength="51.05" lengthAdjust="spacingAndGlyphs">Range </tspan><tspan x="158.40" textLength="41.30" lengthAdjust="spacingAndGlyphs">AGM </tspan><tspan x="202.07" textLength="13.59" lengthAdjust="spacingAndGlyphs">x </tspan><tspan x="217.22" textLength="9.06" lengthAdjust="spacingAndGlyphs">3</tspan></text>
<text y="836.9" font-size="20.5" xml:space="preserve"><tspan x="119.21" textLength="19.37" lengthAdjust="spacingAndGlyphs">X </tspan><tspan x="140.40" textLength="11.40" lengthAdjust="spacingAndGlyphs">4</tspan></text>
<text y="420.5" font-size="16.3" xml:space="preserve"><tspan x="740.00" textLength="22.90" lengthAdjust="spacingAndGlyphs">Ext</tspan></text>
<text y="447.5" font-size="16.3" xml:space="preserve"><tspan x="740.00" textLength="29.80" lengthAdjust="spacingAndGlyphs">Fuel</tspan></text>
<text y="423.0" font-size="16.3" xml:space="preserve"><tspan x="1195.20" textLength="22.60" lengthAdjust="spacingAndGlyphs">Ext</tspan></text>
<text y="449.4" font-size="16.3" xml:space="preserve"><tspan x="1195.20" textLength="29.30" lengthAdjust="spacingAndGlyphs">Fuel</tspan></text>
<text y="494.8" font-size="16.3" xml:space="preserve"><tspan x="856.70" textLength="30.20" lengthAdjust="spacingAndGlyphs">TGP</tspan></text>
<text y="496.8" font-size="16.3" xml:space="preserve"><tspan x="1095.50" textLength="30.40" lengthAdjust="spacingAndGlyphs">TGP</tspan></text>
<text y="578.3" font-size="16.3" xml:space="preserve"><tspan x="866.00" textLength="66.67" lengthAdjust="spacingAndGlyphs">Medium </tspan><tspan x="934.90" textLength="20.82" lengthAdjust="spacingAndGlyphs">or </tspan><tspan x="957.50" textLength="40.99" lengthAdjust="spacingAndGlyphs">Long </tspan><tspan x="1001.60" textLength="50.72" lengthAdjust="spacingAndGlyphs">Range </tspan><tspan x="1054.90" textLength="40.62" lengthAdjust="spacingAndGlyphs">AAM </tspan><tspan x="1097.62" textLength="13.59" lengthAdjust="spacingAndGlyphs">x </tspan><tspan x="1112.87" textLength="9.06" lengthAdjust="spacingAndGlyphs">8</tspan></text>
<text y="656.0" font-size="16.3" xml:space="preserve"><tspan x="834.80" textLength="37.80" lengthAdjust="spacingAndGlyphs">1000 </tspan><tspan x="875.30" textLength="24.08" lengthAdjust="spacingAndGlyphs">lbs </tspan><tspan x="902.70" textLength="37.78" lengthAdjust="spacingAndGlyphs">class </tspan><tspan x="943.70" textLength="61.79" lengthAdjust="spacingAndGlyphs">General </tspan><tspan x="1009.00" textLength="64.27" lengthAdjust="spacingAndGlyphs">Purpose </tspan><tspan x="1076.70" textLength="47.65" lengthAdjust="spacingAndGlyphs">Bomb </tspan><tspan x="1126.92" textLength="13.59" lengthAdjust="spacingAndGlyphs">x </tspan><tspan x="1142.59" textLength="18.13" lengthAdjust="spacingAndGlyphs">12</tspan></text>
<text y="728.9" font-size="16.3" xml:space="preserve"><tspan x="896.60" textLength="62.36" lengthAdjust="spacingAndGlyphs">Internal </tspan><tspan x="961.70" textLength="66.99" lengthAdjust="spacingAndGlyphs">Weapon </tspan><tspan x="1031.60" textLength="27.30" lengthAdjust="spacingAndGlyphs">Bay</tspan></text>
<text y="783.0" font-size="16.3" xml:space="preserve"><tspan x="879.50" textLength="72.36" lengthAdjust="spacingAndGlyphs">Standard </tspan><tspan x="954.80" textLength="53.62" lengthAdjust="spacingAndGlyphs">Rotary </tspan><tspan x="1010.80" textLength="73.15" lengthAdjust="spacingAndGlyphs">Launcher </tspan><tspan x="1086.42" textLength="13.59" lengthAdjust="spacingAndGlyphs">x </tspan><tspan x="1101.02" textLength="9.06" lengthAdjust="spacingAndGlyphs">1</tspan></text>
<text y="866.6" font-size="16.3" xml:space="preserve"><tspan x="901.00" textLength="37.91" lengthAdjust="spacingAndGlyphs">5000 </tspan><tspan x="942.60" textLength="23.85" lengthAdjust="spacingAndGlyphs">lbs </tspan><tspan x="969.40" textLength="40.30" lengthAdjust="spacingAndGlyphs">Class </tspan><tspan x="1013.20" textLength="57.17" lengthAdjust="spacingAndGlyphs">Bunker </tspan><tspan x="1072.80" textLength="51.23" lengthAdjust="spacingAndGlyphs">Buster </tspan><tspan x="1126.57" textLength="13.59" lengthAdjust="spacingAndGlyphs">x </tspan><tspan x="1141.22" textLength="9.06" lengthAdjust="spacingAndGlyphs">2</tspan></text>
<text y="944.7" font-size="16.3" xml:space="preserve"><tspan x="897.70" textLength="38.53" lengthAdjust="spacingAndGlyphs">2000 </tspan><tspan x="939.55" textLength="23.85" lengthAdjust="spacingAndGlyphs">lbs </tspan><tspan x="966.25" textLength="40.52" lengthAdjust="spacingAndGlyphs">Class </tspan><tspan x="1008.13" textLength="28.07" lengthAdjust="spacingAndGlyphs">GP </tspan><tspan x="1037.65" textLength="47.54" lengthAdjust="spacingAndGlyphs">Bomb </tspan><tspan x="1088.02" textLength="13.59" lengthAdjust="spacingAndGlyphs">x </tspan><tspan x="1103.42" textLength="9.06" lengthAdjust="spacingAndGlyphs">6</tspan></text>
<text y="971.6" font-size="16.3" xml:space="preserve"><tspan x="897.46" textLength="36.14" lengthAdjust="spacingAndGlyphs">with </tspan><tspan x="936.60" textLength="71.41" lengthAdjust="spacingAndGlyphs">Standard </tspan><tspan x="1011.80" textLength="53.40" lengthAdjust="spacingAndGlyphs">Rotary </tspan><tspan x="1068.20" textLength="68.69" lengthAdjust="spacingAndGlyphs">Launcher</tspan></text>
<text y="1048.8" font-size="16.3" xml:space="preserve"><tspan x="897.85" textLength="88.03" lengthAdjust="spacingAndGlyphs">Hypersonic </tspan><tspan x="988.10" textLength="38.25" lengthAdjust="spacingAndGlyphs">ASM </tspan><tspan x="1028.97" textLength="13.59" lengthAdjust="spacingAndGlyphs">x </tspan><tspan x="1043.92" textLength="9.06" lengthAdjust="spacingAndGlyphs">3</tspan></text>
<text y="1075.7" font-size="16.3" xml:space="preserve"><tspan x="897.46" textLength="36.14" lengthAdjust="spacingAndGlyphs">with </tspan><tspan x="936.60" textLength="71.41" lengthAdjust="spacingAndGlyphs">Standard </tspan><tspan x="1011.80" textLength="53.40" lengthAdjust="spacingAndGlyphs">Rotary </tspan><tspan x="1068.20" textLength="68.69" lengthAdjust="spacingAndGlyphs">Launcher</tspan></text>
<text y="1194.0" font-size="16.3" xml:space="preserve"><tspan x="900.20" textLength="43.01" lengthAdjust="spacingAndGlyphs">ALBM</tspan></text>
<text y="1280.8" font-size="16.3" xml:space="preserve"><tspan x="899.20" textLength="70.92" lengthAdjust="spacingAndGlyphs">Subsonic </tspan><tspan x="972.70" textLength="38.47" lengthAdjust="spacingAndGlyphs">ASM </tspan><tspan x="1013.77" textLength="13.59" lengthAdjust="spacingAndGlyphs">x </tspan><tspan x="1029.07" textLength="9.06" lengthAdjust="spacingAndGlyphs">4</tspan></text>
<text y="1307.7" font-size="16.3" xml:space="preserve"><tspan x="899.26" textLength="36.14" lengthAdjust="spacingAndGlyphs">with </tspan><tspan x="938.40" textLength="71.41" lengthAdjust="spacingAndGlyphs">Standard </tspan><tspan x="1013.60" textLength="53.40" lengthAdjust="spacingAndGlyphs">Rotary </tspan><tspan x="1070.00" textLength="68.69" lengthAdjust="spacingAndGlyphs">Launcher</tspan></text>
<text y="1399.6" font-size="16.3" xml:space="preserve"><tspan x="896.40" textLength="60.73" lengthAdjust="spacingAndGlyphs">450mm </tspan><tspan x="959.50" textLength="67.57" lengthAdjust="spacingAndGlyphs">Torpedo </tspan><tspan x="1029.47" textLength="13.59" lengthAdjust="spacingAndGlyphs">x </tspan><tspan x="1044.47" textLength="9.06" lengthAdjust="spacingAndGlyphs">6</tspan></text>
<text y="1426.6" font-size="16.3" xml:space="preserve"><tspan x="896.46" textLength="36.14" lengthAdjust="spacingAndGlyphs">with </tspan><tspan x="935.60" textLength="71.41" lengthAdjust="spacingAndGlyphs">Standard </tspan><tspan x="1010.80" textLength="53.40" lengthAdjust="spacingAndGlyphs">Rotary </tspan><tspan x="1067.20" textLength="68.69" lengthAdjust="spacingAndGlyphs">Launcher</tspan></text>
<text y="1545.3" font-size="20.5" xml:space="preserve"><tspan x="918.20" textLength="67.54" lengthAdjust="spacingAndGlyphs">Buddy </tspan><tspan x="987.55" textLength="17.10" lengthAdjust="spacingAndGlyphs">2 </tspan><tspan x="1006.90" textLength="67.54" lengthAdjust="spacingAndGlyphs">Buddy </tspan><tspan x="1077.50" textLength="68.83" lengthAdjust="spacingAndGlyphs">Refuel </tspan><tspan x="1148.50" textLength="71.19" lengthAdjust="spacingAndGlyphs">System</tspan></text>
<text y="1585.3" font-size="20.5" xml:space="preserve"><tspan x="918.20" textLength="69.72" lengthAdjust="spacingAndGlyphs">(Boom </tspan><tspan x="990.80" textLength="26.20" lengthAdjust="spacingAndGlyphs">or </tspan><tspan x="1019.30" textLength="62.70" lengthAdjust="spacingAndGlyphs">Probe </tspan><tspan x="1084.30" textLength="97.61" lengthAdjust="spacingAndGlyphs">Available)</tspan></text>
</g>
</svg>
</body></html>
